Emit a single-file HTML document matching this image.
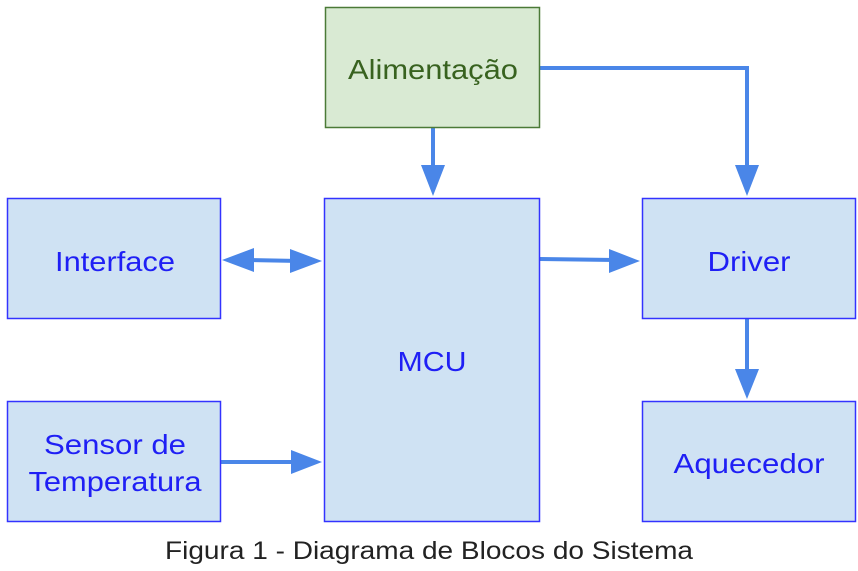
<!DOCTYPE html>
<html><head><meta charset="utf-8"><style>
html,body{margin:0;padding:0;background:#fff;width:858px;height:571px;overflow:hidden}
svg{display:block}
text{font-family:"Liberation Sans",Arial,sans-serif}
</style></head><body>
<svg width="858" height="571" viewBox="0 0 858 571" xmlns="http://www.w3.org/2000/svg">
<g stroke="#4a86e8" stroke-width="4" fill="none">
<line x1="433" y1="128" x2="433" y2="170"/>
<polyline points="540,68 747,68 747,170"/>
<line x1="245" y1="260" x2="300" y2="261"/>
<line x1="540" y1="259" x2="615" y2="260"/>
<line x1="221" y1="462" x2="300" y2="462"/>
<line x1="747" y1="319" x2="747" y2="373"/>
</g>
<g fill="#4a86e8">
<polygon points="421,165 445,165 433,196"/>
<polygon points="735,165 759,165 747,196"/>
<polygon points="222,260 254,248 254,272"/>
<polygon points="322,261 290,249 290,273"/>
<polygon points="640,261 609,249 609,273"/>
<polygon points="322,462 291,450 291,474"/>
<polygon points="735,369 759,369 747,399"/>
</g>
<rect x="325.5" y="7.5" width="214" height="120" fill="#d9ead3" stroke="#4b7a37" stroke-width="1.5"/>
<g fill="#cfe2f3" stroke="#3333ff" stroke-width="1.5">
<rect x="324.5" y="198.5" width="215" height="323"/>
<rect x="7.5" y="198.5" width="213" height="120"/>
<rect x="7.5" y="401.5" width="213" height="120"/>
<rect x="642.5" y="198.5" width="213" height="120"/>
<rect x="642.5" y="401.5" width="213" height="120"/>
</g>
<g font-size="28" text-anchor="middle" fill="#1f1ff5" lengthAdjust="spacingAndGlyphs">
<text x="433" y="79" fill="#38621f" textLength="170" lengthAdjust="spacingAndGlyphs">Alimentação</text>
<text x="432" y="371" textLength="69" lengthAdjust="spacingAndGlyphs">MCU</text>
<text x="115" y="271" textLength="120" lengthAdjust="spacingAndGlyphs">Interface</text>
<text x="115" y="454" textLength="142" lengthAdjust="spacingAndGlyphs">Sensor de</text>
<text x="115" y="491" textLength="173" lengthAdjust="spacingAndGlyphs">Temperatura</text>
<text x="749" y="271" textLength="83" lengthAdjust="spacingAndGlyphs">Driver</text>
<text x="749" y="473" textLength="151" lengthAdjust="spacingAndGlyphs">Aquecedor</text>
</g>
<text x="429" y="559" font-size="25" text-anchor="middle" fill="#222" textLength="528" lengthAdjust="spacingAndGlyphs">Figura 1 - Diagrama de Blocos do Sistema</text>
</svg>
</body></html>
